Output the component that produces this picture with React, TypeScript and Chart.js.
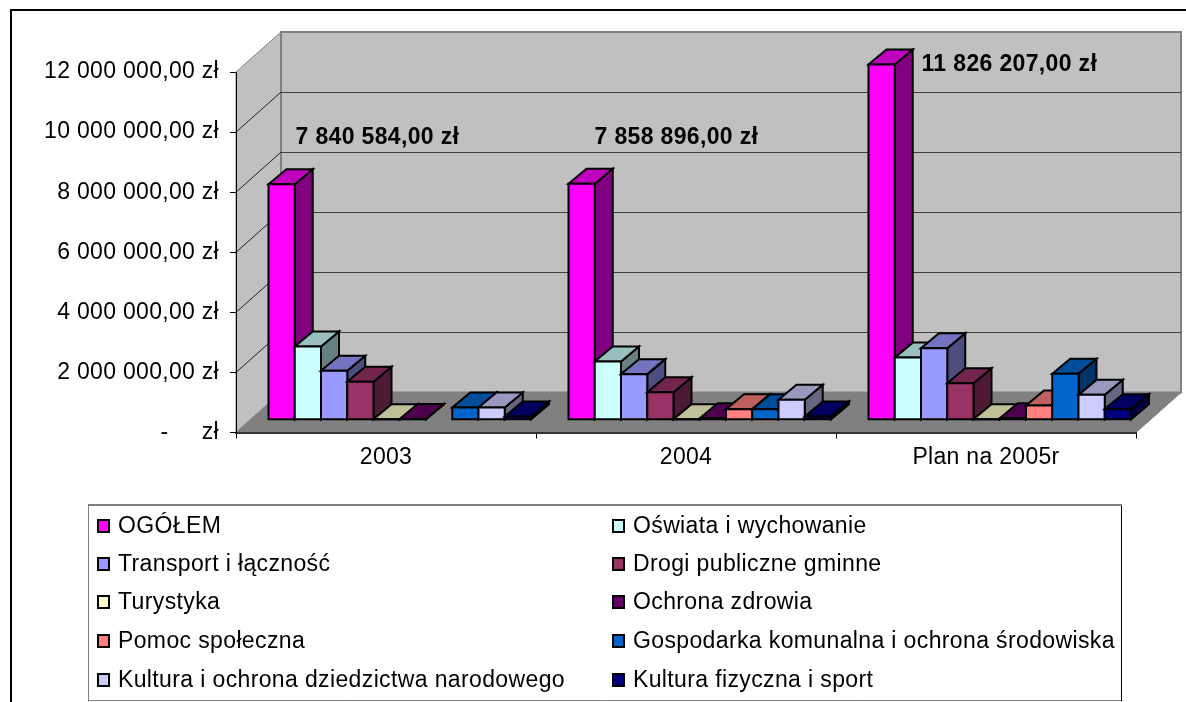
import React, { useEffect, useRef } from "react";
import { Chart, registerables } from "chart.js";

Chart.register(...registerables);

const categories = ["2003", "2004", "Plan na 2005r"];
const seriesNames = [
  "OGÓŁEM",
  "Oświata i wychowanie",
  "Transport i łączność",
  "Drogi publiczne gminne",
  "Turystyka",
  "Ochrona zdrowia",
  "Pomoc społeczna",
  "Gospodarka komunalna i ochrona środowiska",
  "Kultura i ochrona dziedzictwa narodowego",
  "Kultura fizyczna i sport",
];
const ogolem = [7840584, 7858896, 11826207];
const oswiata = [2440000, 1940000, 2070000];
const transport = [1630000, 1520000, 2385000];
const drogi = [1270000, 920000, 1220000];
const turystyka = [20000, 20000, 20000];
const zdrowie = [30000, 50000, 50000];
const pomoc = [0, 355000, 476000];
const gospodarka = [410000, 355000, 1530000];
const kultura = [410000, 665000, 830000];
const sport = [110000, 110000, 355000];
const allValues = [ogolem, oswiata, transport, drogi, turystyka, zdrowie, pomoc, gospodarka, kultura, sport];
const seriesColors = ["#FF00FF", "#CCFFFF", "#9999FF", "#993366", "#FFFFCC", "#660066", "#FF8080", "#0066CC", "#CCCCFF", "#000080"];
const totalLabels = ["7 840 584,00 zł", "7 858 896,00 zł", "11 826 207,00 zł"];

const FONT = '"Liberation Sans", Arial, sans-serif';
const FONT_SIZE = 23;
const DEPTH_X = 45;
const DEPTH_Y = 40;
const BAR_SHIFT_X = 13.75;
const BAR_SHIFT_Y = 12.7;
const BAR_DX = 18;
const BAR_DY = 15;
const LABEL_POS = [
  { dx: 27, dy: -47 },
  { dx: 26, dy: -46 },
  { dx: 53, dy: 0 },
];

function shade(hex: string, k: number) {
  const n = parseInt(hex.slice(1), 16);
  const r = Math.round(((n >> 16) & 255) * k);
  const g = Math.round(((n >> 8) & 255) * k);
  const b = Math.round((n & 255) * k);
  return `rgb(${r},${g},${b})`;
}

function poly(ctx: CanvasRenderingContext2D, pts: number[][], fill: string | null, stroke: string | null, lw = 1) {
  ctx.beginPath();
  pts.forEach((p, i) => (i ? ctx.lineTo(p[0], p[1]) : ctx.moveTo(p[0], p[1])));
  ctx.closePath();
  if (fill) {
    ctx.fillStyle = fill;
    ctx.fill();
  }
  if (stroke) {
    ctx.strokeStyle = stroke;
    ctx.lineWidth = lw;
    ctx.lineJoin = "miter";
    ctx.stroke();
  }
}

const wallsPlugin = {
  id: "walls",
  beforeDatasetsDraw(chart: any) {
    const ctx: CanvasRenderingContext2D = chart.ctx;
    const { left, right, top, bottom } = chart.chartArea;
    const y = chart.scales.y;
    ctx.save();
    poly(ctx, [[left, top], [left + DEPTH_X, top - DEPTH_Y], [left + DEPTH_X, bottom - DEPTH_Y], [left, bottom]], "#C0C0C0", "#808080", 1);
    poly(ctx, [[left + DEPTH_X, top - DEPTH_Y], [right + DEPTH_X, top - DEPTH_Y], [right + DEPTH_X, bottom - DEPTH_Y], [left + DEPTH_X, bottom - DEPTH_Y]], "#C0C0C0", "#808080", 2);
    poly(ctx, [[left, bottom], [left + DEPTH_X, bottom - DEPTH_Y], [right + DEPTH_X, bottom - DEPTH_Y], [right, bottom]], "#808080", "#808080", 1);
    y.ticks.forEach((t: any) => {
      if (t.value === 0 || t.value === 12000000) return;
      const py = y.getPixelForValue(t.value);
      ctx.beginPath();
      ctx.moveTo(left, py);
      ctx.lineTo(left + DEPTH_X, py - DEPTH_Y);
      ctx.strokeStyle = "#202020";
      ctx.lineWidth = 1;
      ctx.stroke();
      ctx.beginPath();
      ctx.moveTo(left + DEPTH_X, Math.round(py - DEPTH_Y) + 0.5);
      ctx.lineTo(right + DEPTH_X, Math.round(py - DEPTH_Y) + 0.5);
      ctx.strokeStyle = "#404040";
      ctx.stroke();
    });
    ctx.translate(BAR_SHIFT_X, -BAR_SHIFT_Y);
    chart.data.datasets.forEach((ds: any, di: number) => {
      const meta = chart.getDatasetMeta(di);
      meta.data.forEach((bar: any, i: number) => {
        if (!allValues[di][i]) return;
        const { x, y: by, base, width } = bar.getProps(["x", "y", "base", "width"], true);
        const l = x - width / 2;
        const r = x + width / 2;
        const c = seriesColors[di];
        poly(ctx, [[r, by], [r + BAR_DX, by - BAR_DY], [r + BAR_DX, base - BAR_DY], [r, base]], shade(c, 0.5), "#000", 2);
        poly(ctx, [[l, by], [l + BAR_DX, by - BAR_DY], [r + BAR_DX, by - BAR_DY], [r, by]], shade(c, 0.75), "#000", 2);
        bar.draw(ctx, chart.chartArea);
        poly(ctx, [[l, by], [r, by], [r, base], [l, base]], null, "#000", 2);
      });
    });
    ctx.restore();
    ctx.save();
    ctx.font = `bold ${FONT_SIZE}px ${FONT}`;
    (ctx as any).letterSpacing = "0.35px";
    ctx.fillStyle = "#000";
    ctx.textAlign = "left";
    ctx.textBaseline = "middle";
    const first = chart.getDatasetMeta(0).data;
    totalLabels.forEach((txt, i) => {
      const b = first[i];
      const lx = b.x - b.width / 2 + BAR_SHIFT_X + LABEL_POS[i].dx;
      const ly = b.y - BAR_SHIFT_Y + LABEL_POS[i].dy;
      ctx.fillText(txt, lx, ly);
    });
    ctx.restore();
    return false;
  },
};

const framePlugin = {
  id: "frame",
  beforeDraw(chart: any) {
    const ctx: CanvasRenderingContext2D = chart.ctx;
    ctx.save();
    ctx.fillStyle = "#fff";
    ctx.fillRect(0, 0, chart.width, chart.height);
    ctx.fillStyle = "#000";
    ctx.fillRect(10, 9, chart.width - 10, 2);
    ctx.fillRect(10, 9, 2, chart.height - 9);
    ctx.restore();
    (ctx as any).letterSpacing = "0.3px";
  },
  afterDraw(chart: any) {
    const ctx: CanvasRenderingContext2D = chart.ctx;
    ctx.save();
    const L = 88, T = 505, R = 1121, B = 701;
    ctx.strokeStyle = "#808080";
    ctx.lineWidth = 1;
    ctx.beginPath();
    ctx.moveTo(L + 0.5, B + 0.5);
    ctx.lineTo(L + 0.5, T);
    ctx.stroke();
    ctx.beginPath();
    ctx.moveTo(L, B - 0.5);
    ctx.lineTo(R, B - 0.5);
    ctx.stroke();
    ctx.lineWidth = 2;
    ctx.beginPath();
    ctx.moveTo(L, T);
    ctx.lineTo(R + 1, T);
    ctx.stroke();
    ctx.strokeStyle = "#000";
    ctx.lineWidth = 1;
    ctx.beginPath();
    ctx.moveTo(R + 0.5, T + 1);
    ctx.lineTo(R + 0.5, B);
    ctx.stroke();
    const rows = [526, 564, 602, 641, 680];
    const cols = [97, 612];
    ctx.font = `${FONT_SIZE}px ${FONT}`;
    ctx.textBaseline = "middle";
    ctx.textAlign = "left";
    (ctx as any).letterSpacing = "0.37px";
    seriesNames.forEach((name, i) => {
      const cx = cols[i % 2];
      const cy = rows[Math.floor(i / 2)];
      ctx.fillStyle = seriesColors[i];
      ctx.strokeStyle = "#000";
      ctx.lineWidth = 2;
      ctx.fillRect(cx + 1, cy - 6, 11, 12);
      ctx.strokeRect(cx + 1, cy - 6, 11, 12);
      ctx.fillStyle = "#000";
      ctx.fillText(name, cx + 21, cy + 1);
    });
    ctx.restore();
  },
};

export default function App() {
  const ref = useRef<HTMLCanvasElement>(null);
  useEffect(() => {
    document.body.style.margin = "0";
    document.body.style.overflow = "hidden";
    const chart = new Chart(ref.current as HTMLCanvasElement, {
      type: "bar",
      data: {
        labels: categories,
        datasets: seriesNames.map((label, i) => ({
          label,
          data: allValues[i],
          backgroundColor: seriesColors[i],
          borderWidth: 0,
          borderSkipped: false,
          barPercentage: 1,
          categoryPercentage: 0.875,
        })),
      },
      options: {
        animation: false,
        responsive: false,
        events: [],
        layout: { padding: { top: 72, right: 50, left: 0, bottom: 0 } },
        plugins: { legend: { display: false }, title: { display: false }, tooltip: { enabled: false } },
        scales: {
          x: {
            type: "category",
            offset: true,
            afterFit(s: any) {
              s.height = 702 - 432.5;
            },
            border: { display: true, color: "#333333", width: 2, z: 1 },
            grid: { display: true, offset: true, drawOnChartArea: false, drawTicks: true, tickLength: 6, color: "#000", tickWidth: 1, z: 1 },
            ticks: { color: "#000", font: { family: FONT, size: FONT_SIZE }, padding: 5, maxRotation: 0, autoSkip: false },
          },
          y: {
            type: "linear",
            min: 0,
            max: 12000000,
            afterFit(s: any) {
              s.width = 236;
            },
            border: { display: true, color: "#000", width: 1, z: 1 },
            grid: { display: true, drawOnChartArea: false, drawTicks: true, tickLength: 6, color: "#000", z: 1 },
            ticks: {
              stepSize: 2000000,
              color: "#000",
              font: { family: FONT, size: FONT_SIZE },
              padding: 11,
              callback(v: any) {
                if (v === 0) return "-     zł";
                return `${v / 1000000} 000 000,00 zł`;
              },
            },
          },
        },
      } as any,
      plugins: [framePlugin, wallsPlugin],
    });
    return () => chart.destroy();
  }, []);
  return (
    <div style={{ position: "absolute", left: 0, top: 0, width: 1186, height: 702 }}>
      <canvas ref={ref} width={1186} height={702} style={{ display: "block" }} />
    </div>
  );
}
